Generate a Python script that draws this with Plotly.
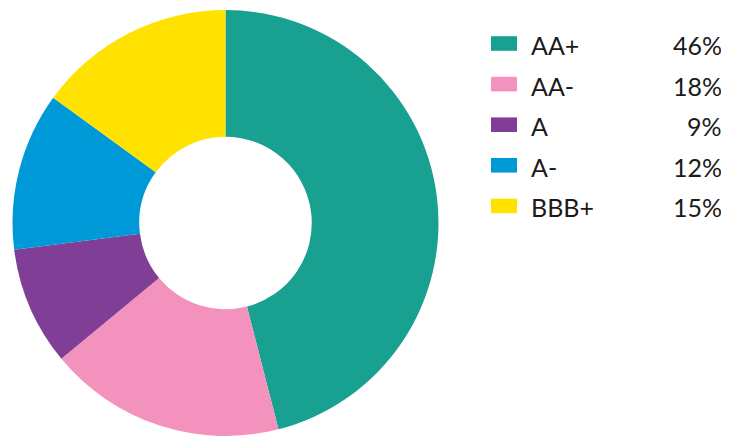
import plotly.graph_objects as go

labels = ["AA+", "AA-", "A", "A-", "BBB+"]
values = [46, 18, 9, 12, 15]
colors = ["#18A091", "#F392BD", "#803E96", "#0099D7", "#FFE200"]

# page body has an 8px margin; lay out in page pixels and convert
O = 8
W, H = 729 - O, 436 - O


def px(x):
    return (x - O) / W


def py(y):
    return 1 - (y - O) / H


fig = go.Figure()
fig.add_trace(go.Pie(
    labels=labels,
    values=values,
    hole=0.405,
    sort=False,
    direction="clockwise",
    rotation=0,
    marker=dict(colors=colors, line=dict(width=0)),
    textinfo="none",
    hoverinfo="label+percent",
    showlegend=False,
    domain=dict(x=[px(12), px(439)], y=[0, py(10)]),
))

row_top = 43.5
row_gap = 40.6
shapes = []
annotations = []
for i, (lab, val, col) in enumerate(zip(labels, values, colors)):
    cy = row_top + i * row_gap
    shapes.append(dict(
        type="rect", xref="paper", yref="paper",
        x0=px(491), x1=px(517),
        y0=py(cy - 7.3), y1=py(cy + 7.3),
        fillcolor=col, line=dict(width=0),
    ))
    annotations.append(dict(
        x=px(529), y=py(cy + 1.5), xref="paper", yref="paper",
        text=lab, showarrow=False, xanchor="left", yanchor="middle",
        font=dict(family="Lato", size=25, color="#1a1a1a"),
    ))
    annotations.append(dict(
        x=px(724), y=py(cy + 1.5), xref="paper", yref="paper",
        text=f"{val}%", showarrow=False, xanchor="right", yanchor="middle",
        font=dict(family="Lato", size=25, color="#1a1a1a"),
    ))

fig.update_layout(
    width=W, height=H,
    margin=dict(l=0, r=0, t=0, b=0),
    paper_bgcolor="white",
    plot_bgcolor="white",
    shapes=shapes,
    annotations=annotations,
)

fig.write_html("out.html")
